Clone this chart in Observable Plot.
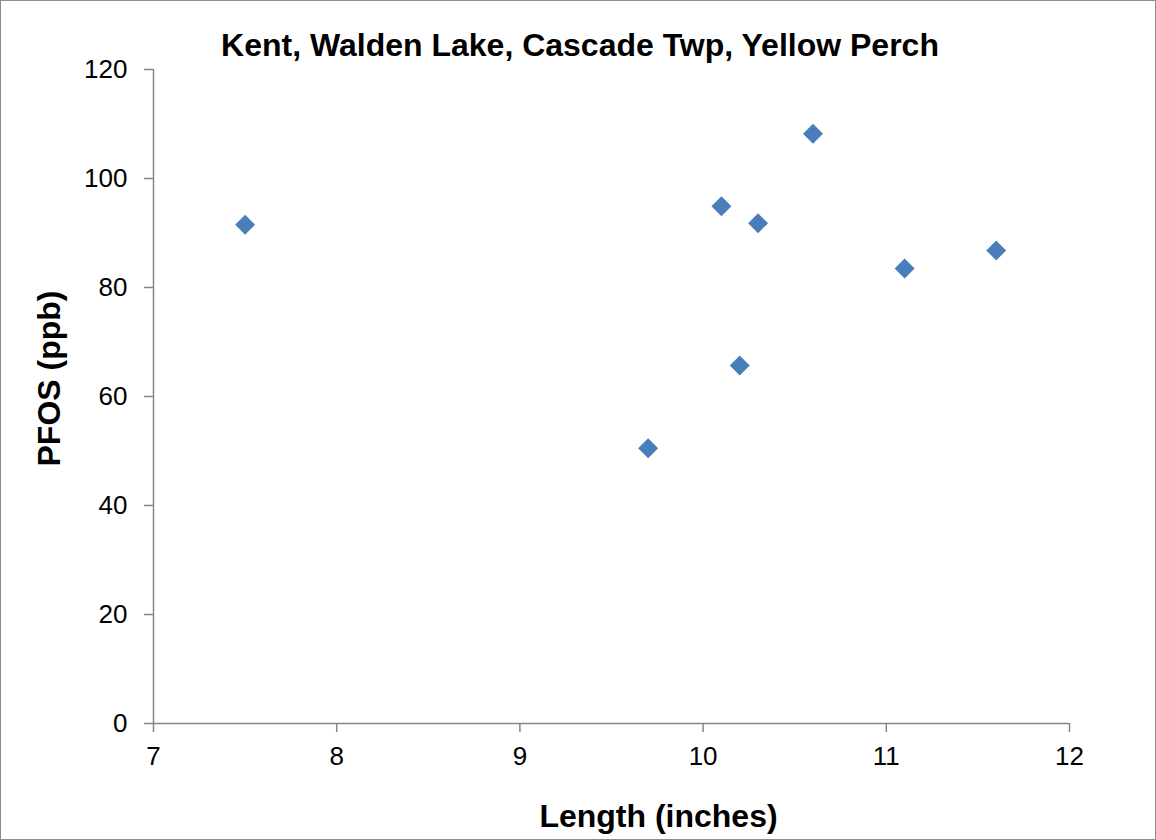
<!DOCTYPE html>
<html>
<head>
<meta charset="utf-8">
<script src="https://cdn.jsdelivr.net/npm/d3@7"></script>
<script src="https://cdn.jsdelivr.net/npm/@observablehq/plot@0.6"></script>
<style>
  html, body { margin: 0; padding: 0; background: #fff; }
  #wrap { position: relative; width: 1156px; height: 840px; overflow: hidden; font-family: "Liberation Sans", Arial, sans-serif; }
  #frame { position: absolute; left: 0; top: 0; width: 1154px; height: 838px; border: 1px solid #8c8c8c; pointer-events: none; }
  #title { height: 50px; box-sizing: border-box; padding-top: 29px; text-align: center; font-weight: bold; font-size: 32px; line-height: 32px; color: #000; padding-left: 4px; white-space: nowrap; }
  #chart { position: absolute; left: 0; top: 50px; }
</style>
</head>
<body>
<div id="wrap">
  <div id="title">Kent, Walden Lake, Cascade Twp, Yellow Perch</div>
  <div id="chart"></div>
  <div id="frame"></div>
</div>
<script>
const lengthInches = [7.5, 9.7, 10.1, 10.2, 10.3, 10.6, 11.1, 11.6];
const pfosPpb = [91.5, 50.5, 94.9, 65.7, 91.8, 108.2, 83.5, 86.8];
const xTicks = [7, 8, 9, 10, 11, 12];
const yTicks = [0, 20, 40, 60, 80, 100, 120];
const xLabel = "Length (inches)";
const yLabel = "PFOS (ppb)";

const data = lengthInches.map((x, i) => ({x, y: pfosPpb[i]}));
const axisColor = "#868686";

const chart = Plot.plot({
  width: 1156,
  height: 790,
  marginLeft: 153,
  marginRight: 87,
  marginTop: 19,
  marginBottom: 117,
  style: {fontFamily: "'Liberation Sans', Arial, sans-serif", fontSize: "26px", color: "#000", background: "transparent", overflow: "visible"},
  x: {domain: [7, 12]},
  y: {domain: [0, 120]},
  marks: [
    Plot.axisX({ticks: xTicks, tickFormat: "d", tickSize: 9, tickPadding: 14, stroke: axisColor, strokeWidth: 1.5, fill: "#000", label: null, fontSize: 26}),
    Plot.axisY({ticks: yTicks, tickFormat: "d", tickSize: 9, tickPadding: 17, stroke: axisColor, strokeWidth: 1.5, fill: "#000", label: null, fontSize: 26}),
    Plot.ruleY([0], {stroke: axisColor, strokeWidth: 1.5}),
    Plot.ruleX([7], {stroke: axisColor, strokeWidth: 1.5}),
    Plot.dot(data, {x: "x", y: "y", symbol: "diamond2", r: 9, fill: "#4a7ebb", stroke: "none"}),
    Plot.text([xLabel], {frameAnchor: "bottom", textAnchor: "middle", lineAnchor: "bottom", dx: 47, dy: 103, text: d => d, fontWeight: "bold", fontSize: 32, fill: "#000"}),
    Plot.text([yLabel], {frameAnchor: "left", textAnchor: "middle", lineAnchor: "middle", dx: -104, dy: -18, rotate: -90, text: d => d, fontWeight: "bold", fontSize: 32, fill: "#000"})
  ]
});
document.getElementById("chart").appendChild(chart);
</script>
</body>
</html>
